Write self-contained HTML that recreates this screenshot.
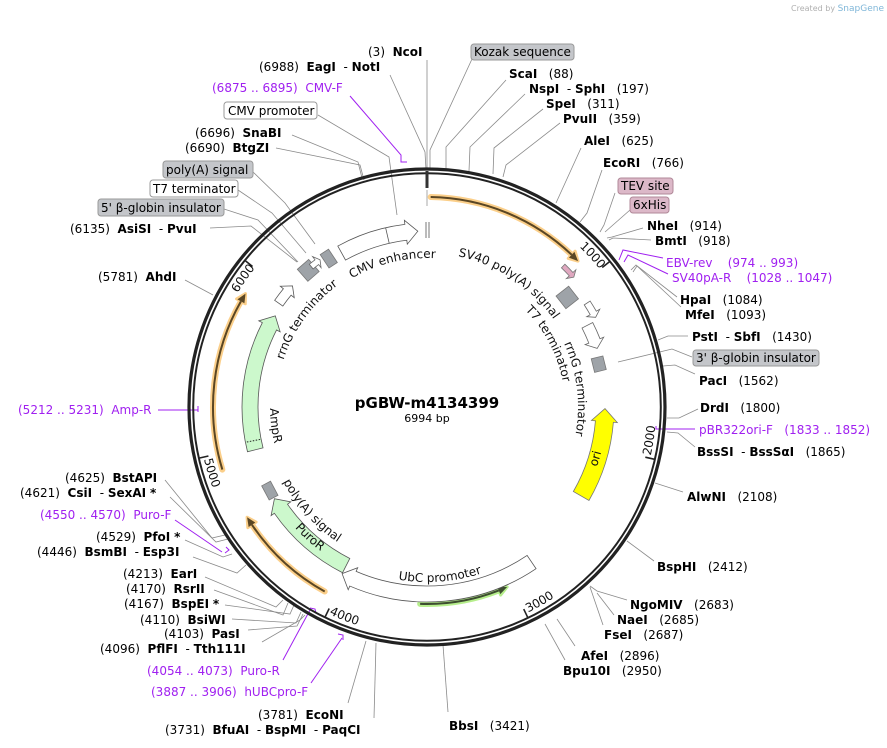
<!DOCTYPE html>
<html><head><meta charset="utf-8"><style>
html,body{margin:0;padding:0;background:#fff;}
svg{display:block;font-family:"DejaVu Sans","Liberation Sans",sans-serif;}
svg text{white-space:pre;}
.l{fill:none;stroke:#8a8a8a;stroke-width:0.8}
.p{fill:none;stroke:#a020f0;stroke-width:1}
.t{font-size:12px;fill:#000}
.b{font-weight:bold}
.pu{font-size:12px;fill:#a020f0}
.f{font-size:12px;fill:#111}
</style></head><body>
<svg id="s" width="887" height="748" viewBox="0 0 887 748" xmlns="http://www.w3.org/2000/svg">
<defs id="d">
<path id="tp1"/><path id="tp2"/><path id="tp3"/><path id="tp4"/><path id="tp5"/><path id="tp6"/>
<path id="fp1"/><path id="fp2"/><path id="fp3"/><path id="fp4"/><path id="fp5"/><path id="fp6"/><path id="fp7"/><path id="fp8"/><path id="fp9"/><path id="fp10"/>
</defs>
<g id="shapes"></g>
<g id="lines">
<polyline class="l" points="427,60 427,152 427,170"/>
<polyline class="l" points="390,75 425,152 426,170"/>
<polyline class="p" points="350,96 401,155 401,162 407,162"/>
<polyline class="l" points="318,115 389,157 397,215"/>
<polyline class="l" points="292,135 358,162 362,178"/>
<polyline class="l" points="276,148 360,165 364,180"/>
<polyline class="l" points="253,172 285,203 315,244"/>
<polyline class="l" points="238,190 272,213 306,253"/>
<polyline class="l" points="224,209 258,220 298,262"/>
<polyline class="l" points="210,228 251,226 297,262"/>
<polyline class="l" points="185,280 213,295"/>
<polyline class="l" points="472,59 430,150 430,170"/>
<polyline class="l" points="506,80 446,147 446,169"/>
<polyline class="l" points="525,94 470,147 469,171"/>
<polyline class="l" points="543,109 494,148 493,174"/>
<polyline class="l" points="560,123 506,165 503,177"/>
<polyline class="l" points="581,148 556,203"/>
<polyline class="l" points="602,170 587,213 580,222"/>
<polyline class="l" points="615,193 604,225 600,232"/>
<polyline class="l" points="630,210 605,232"/>
<polyline class="l" points="643,228 612,237 607,238"/>
<polyline class="l" points="651,240 613,238 609,240"/>
<polyline class="p" points="663,258 623,250 619,260"/>
<polyline class="p" points="668,274 628,255 624,262"/>
<polyline class="l" points="677,297 636,265 631,270"/>
<polyline class="l" points="681,307 637,266 633,272"/>
<polyline class="l" points="688,336 668,336 658,340"/>
<polyline class="l" points="692,357 672,349 618,362"/>
<polyline class="l" points="695,374 675,365 663,366"/>
<polyline class="l" points="698,409 679,418 667,418"/>
<polyline class="p" points="695,429 658,429"/>
<polyline class="p" points="656,426 656,429 660,429"/>
<polyline class="l" points="695,447 678,433 667,432"/>
<polyline class="l" points="683,492 655,483"/>
<polyline class="l" points="654,561 627,541"/>
<polyline class="l" points="627,600 597,591 590,586"/>
<polyline class="l" points="614,615 597,593"/>
<polyline class="l" points="603,625 590,587"/>
<polyline class="l" points="575,646 557,619"/>
<polyline class="l" points="565,660 545,624"/>
<polyline class="l" points="448,712 443,645"/>
<polyline class="l" points="348,703 366,641"/>
<polyline class="l" points="374,718 376,643"/>
<polyline class="l" points="165,480 212,538 225,535"/>
<polyline class="l" points="170,497 216,542 228,539"/>
<polyline class="p" points="175,520 222,552"/>
<polyline class="p" points="226,547 229,550 225,553"/>
<polyline class="l" points="185,540 223,557 232,554"/>
<polyline class="l" points="193,557 237,573 246,565"/>
<polyline class="l" points="205,577 276,607 283,600"/>
<polyline class="l" points="214,590 283,615 288,603"/>
<polyline class="l" points="225,605 290,614 294,605"/>
<polyline class="l" points="232,619 296,623 301,612"/>
<polyline class="l" points="248,630 297,626 303,614"/>
<polyline class="l" points="262,642 300,620 305,615"/>
<polyline class="p" points="283,660 310,610"/>
<polyline class="p" points="310,608 315,609 316,613"/>
<polyline class="p" points="311,683 342,638"/>
<polyline class="p" points="338,634 343,635 343,640"/>
<polyline class="p" points="158,410 198,410"/>
<polyline class="p" points="198,406 198,412"/>
</g>
<circle cx="427" cy="407" r="238" fill="none" stroke="#222" stroke-width="3.2"/>
<circle cx="427" cy="407" r="233.8" fill="none" stroke="#222" stroke-width="2"/>
<line x1="427" y1="171" x2="427" y2="188" stroke="#333" stroke-width="3"/>
<line x1="426" y1="222" x2="426" y2="238" stroke="#777" stroke-width="1"/>
<line x1="429" y1="222" x2="429" y2="238" stroke="#777" stroke-width="1"/>
<line x1="427" y1="190" x2="427" y2="206" stroke="#aaa" stroke-width="1"/>
<g id="ticks"></g>

<text class="f" font-size="11"><textPath href="#tp1" startOffset="50%" text-anchor="middle">1000</textPath></text>
<text class="f" font-size="11"><textPath href="#tp2" startOffset="50%" text-anchor="middle">2000</textPath></text>
<text class="f" font-size="11"><textPath href="#tp3" startOffset="50%" text-anchor="middle">3000</textPath></text>
<text class="f" font-size="11"><textPath href="#tp4" startOffset="50%" text-anchor="middle">4000</textPath></text>
<text class="f" font-size="11"><textPath href="#tp5" startOffset="50%" text-anchor="middle">5000</textPath></text>
<text class="f" font-size="11"><textPath href="#tp6" startOffset="50%" text-anchor="middle">6000</textPath></text>

<text class="f"><textPath href="#fp1" startOffset="50%" text-anchor="middle">CMV enhancer</textPath></text>
<text class="f"><textPath href="#fp2" startOffset="50%" text-anchor="middle">SV40 poly(A) signal</textPath></text>
<text class="f"><textPath href="#fp3" startOffset="50%" text-anchor="middle">T7 terminator</textPath></text>
<text class="f"><textPath href="#fp4" startOffset="50%" text-anchor="middle">rrnG terminator</textPath></text>
<text class="f"><textPath href="#fp5" startOffset="50%" text-anchor="middle">rrnG terminator</textPath></text>
<text class="f"><textPath href="#fp6" startOffset="50%" text-anchor="middle">AmpR</textPath></text>
<text class="f"><textPath href="#fp7" startOffset="50%" text-anchor="middle">poly(A) signal</textPath></text>
<text class="f"><textPath href="#fp8" startOffset="50%" text-anchor="middle">PuroR</textPath></text>
<text class="f"><textPath href="#fp9" startOffset="50%" text-anchor="middle">UbC promoter</textPath></text>
<text class="f"><textPath href="#fp10" startOffset="50%" text-anchor="middle">ori</textPath></text>

<text x="427" y="408" text-anchor="middle" font-size="15" font-weight="bold">pGBW-m4134399</text>
<text x="427" y="422" text-anchor="middle" font-size="11">6994 bp</text>

<text x="884" y="11" text-anchor="end" font-size="8" fill="#b0b0b0">Created by <tspan fill="#7fb6d8" font-size="9">SnapGene</tspan></text>

<rect x="224" y="102" width="93" height="17" rx="3" fill="#fff" stroke="#999"/>
<text class="t" x="228" y="115">CMV promoter</text>
<rect x="163" y="161" width="90" height="17" rx="3" fill="#c4c6ca" stroke="#999"/>
<text class="t" x="166" y="174">poly(A) signal</text>
<rect x="150" y="180" width="88" height="17" rx="3" fill="#fff" stroke="#999"/>
<text class="t" x="153" y="193">T7 terminator</text>
<rect x="98" y="199" width="126" height="17" rx="3" fill="#c4c6ca" stroke="#999"/>
<text class="t" x="101" y="212">5' β-globin insulator</text>
<rect x="471" y="44" width="103" height="16" rx="3" fill="#c4c6ca" stroke="#999"/>
<text class="t" x="474" y="56">Kozak sequence</text>
<rect x="618" y="178" width="55" height="16" rx="3" fill="#dcb8c8" stroke="#b08898"/>
<text class="t" x="621" y="190">TEV site</text>
<rect x="630" y="197" width="39" height="16" rx="3" fill="#dcb8c8" stroke="#b08898"/>
<text class="t" x="633" y="209">6xHis</text>
<rect x="693" y="350" width="126" height="16" rx="3" fill="#c4c6ca" stroke="#999"/>
<text class="t" x="696" y="362">3' β-globin insulator</text>

<g class="t">
<text x="368" y="56">(3)  <tspan class="b">NcoI</tspan></text>
<text x="259" y="71">(6988)  <tspan class="b">EagI</tspan>  - <tspan class="b">NotI</tspan></text>
<text x="212" y="92" class="pu">(6875 .. 6895)  CMV-F</text>
<text x="195" y="137">(6696)  <tspan class="b">SnaBI</tspan></text>
<text x="185" y="152">(6690)  <tspan class="b">BtgZI</tspan></text>
<text x="70" y="233">(6135)  <tspan class="b">AsiSI</tspan>  - <tspan class="b">PvuI</tspan></text>
<text x="98" y="281">(5781)  <tspan class="b">AhdI</tspan></text>

<text x="509" y="78"><tspan class="b">ScaI</tspan>   (88)</text>
<text x="529" y="93"><tspan class="b">NspI</tspan>  - <tspan class="b">SphI</tspan>   (197)</text>
<text x="546" y="108"><tspan class="b">SpeI</tspan>   (311)</text>
<text x="563" y="123"><tspan class="b">PvuII</tspan>   (359)</text>
<text x="584" y="145"><tspan class="b">AleI</tspan>   (625)</text>
<text x="603" y="167"><tspan class="b">EcoRI</tspan>   (766)</text>
<text x="647" y="230"><tspan class="b">NheI</tspan>   (914)</text>
<text x="655" y="245"><tspan class="b">BmtI</tspan>   (918)</text>
<text x="666" y="267" class="pu">EBV-rev    (974 .. 993)</text>
<text x="672" y="282" class="pu">SV40pA-R    (1028 .. 1047)</text>
<text x="680" y="304"><tspan class="b">HpaI</tspan>   (1084)</text>
<text x="685" y="319"><tspan class="b">MfeI</tspan>   (1093)</text>

<text x="692" y="341"><tspan class="b">PstI</tspan>  - <tspan class="b">SbfI</tspan>   (1430)</text>
<text x="699" y="385"><tspan class="b">PacI</tspan>   (1562)</text>
<text x="700" y="412"><tspan class="b">DrdI</tspan>   (1800)</text>
<text x="699" y="434" class="pu">pBR322ori-F   (1833 .. 1852)</text>
<text x="697" y="456"><tspan class="b">BssSI</tspan>  - <tspan class="b">BssSαI</tspan>   (1865)</text>
<text x="687" y="501"><tspan class="b">AlwNI</tspan>   (2108)</text>
<text x="657" y="571"><tspan class="b">BspHI</tspan>   (2412)</text>
<text x="630" y="609"><tspan class="b">NgoMIV</tspan>   (2683)</text>
<text x="617" y="624"><tspan class="b">NaeI</tspan>   (2685)</text>
<text x="604" y="639"><tspan class="b">FseI</tspan>   (2687)</text>
<text x="581" y="660"><tspan class="b">AfeI</tspan>   (2896)</text>
<text x="563" y="675"><tspan class="b">Bpu10I</tspan>   (2950)</text>

<text x="449" y="730"><tspan class="b">BbsI</tspan>   (3421)</text>
<text x="258" y="719">(3781)  <tspan class="b">EcoNI</tspan></text>
<text x="165" y="734">(3731)  <tspan class="b">BfuAI</tspan>  - <tspan class="b">BspMI</tspan>  - <tspan class="b">PaqCI</tspan></text>

<text x="65" y="482">(4625)  <tspan class="b">BstAPI</tspan></text>
<text x="20" y="497">(4621)  <tspan class="b">CsiI</tspan>  - <tspan class="b">SexAI</tspan> <tspan class="b">*</tspan></text>
<text x="40" y="519" class="pu">(4550 .. 4570)  Puro-F</text>
<text x="96" y="541">(4529)  <tspan class="b">PfoI</tspan> <tspan class="b">*</tspan></text>
<text x="37" y="556">(4446)  <tspan class="b">BsmBI</tspan>  - <tspan class="b">Esp3I</tspan></text>
<text x="123" y="578">(4213)  <tspan class="b">EarI</tspan></text>
<text x="126" y="593">(4170)  <tspan class="b">RsrII</tspan></text>
<text x="124" y="608">(4167)  <tspan class="b">BspEI</tspan> <tspan class="b">*</tspan></text>
<text x="140" y="624">(4110)  <tspan class="b">BsiWI</tspan></text>
<text x="164" y="638">(4103)  <tspan class="b">PasI</tspan></text>
<text x="100" y="653">(4096)  <tspan class="b">PflFI</tspan>  - <tspan class="b">Tth111I</tspan></text>
<text x="147" y="675" class="pu">(4054 .. 4073)  Puro-R</text>
<text x="151" y="696" class="pu">(3887 .. 3906)  hUBCpro-F</text>
<text x="18" y="414" class="pu">(5212 .. 5231)  Amp-R</text>
</g>
</svg>
<script>
(function(){
var cx=427,cy=407,NS="http://www.w3.org/2000/svg";
function pt(a,r){var t=a*Math.PI/180;return (cx+r*Math.sin(t)).toFixed(2)+","+(cy-r*Math.cos(t)).toFixed(2);}
function arc(a1,a2,r){var l=Math.abs(a2-a1)>180?1:0,s=a2>a1?1:0;return "M"+pt(a1,r)+" A"+r+","+r+" 0 "+l+" "+s+" "+pt(a2,r);}
var g=document.getElementById("shapes");
function add(tag,at){var e=document.createElementNS(NS,tag);for(var k in at)e.setAttribute(k,at[k]);g.appendChild(e);return e;}
function block(a1,a2,r,w,fill,stroke,hl){var d=a2>a1?1:-1;var h=(hl||12)/r*180/Math.PI;var ab=a2-d*h;var ro=r+w/2,ri=r-w/2;
 var s=d>0?1:0,s2=d>0?0:1;var l=Math.abs(ab-a1)>180?1:0;
 var p="M"+pt(a1,ro)+" A"+ro+","+ro+" 0 "+l+" "+s+" "+pt(ab,ro)+" L"+pt(ab,ro+4)+" L"+pt(a2,r)+" L"+pt(ab,ri-4)+" L"+pt(ab,ri)+" A"+ri+","+ri+" 0 "+l+" "+s2+" "+pt(a1,ri)+" Z";
 add("path",{d:p,fill:fill,stroke:stroke,"stroke-width":0.8});}
function thin(a1,a2,r,glow,core){var d=a2>a1?1:-1;var h=9/r*180/Math.PI;var ab=a2-d*h;
 add("path",{d:arc(a1,ab,r),fill:"none",stroke:glow,"stroke-width":6,"stroke-linecap":"round"});
 add("path",{d:"M"+pt(ab,r+5)+" L"+pt(a2,r)+" L"+pt(ab,r-5)+" Z",fill:glow,stroke:glow,"stroke-width":3,"stroke-linejoin":"round"});
 add("path",{d:arc(a1,ab,r),fill:"none",stroke:core,"stroke-width":2});
 add("path",{d:"M"+pt(ab,r+4)+" L"+pt(a2,r)+" L"+pt(ab,r-4)+" Z",fill:core});}
function box(a,r,w,h,fill){var c=pt(a,r).split(",");add("rect",{x:-w/2,y:-h/2,width:w,height:h,fill:fill,stroke:"#777","stroke-width":0.8,transform:"translate("+c[0]+","+c[1]+") rotate("+a+")"});}
var OR="#fbcf8a",OC="#5a4624";
thin(1,46,210,OR,OC);
thin(-107,-58,214,OR,OC);
thin(209,238.5,211,OR,OC);
thin(182,156,197,"#b6ee8c","#3d4d30");
block(-29,-3,176,16,"#fff","#555");
add("path",{d:"M"+pt(-13,168)+" L"+pt(-13,184),stroke:"#555","stroke-width":0.8});
block(-104,-59,177,16,"#ccf8cc","#555");
add("path",{d:"M"+pt(-101,170)+" L"+pt(-101,184),stroke:"#222","stroke-width":1,"stroke-dasharray":"1.5,1.5"});
block(-55,-48,181,10,"#fff","#555",8);
block(207,239,178,16,"#ccf8cc","#555");
block(146,207,187,16,"#fff","#555");
block(120,90.5,178,18,"#ffff00","#777",13);
block(44,48.5,196,5,"#e0a8c0","#777",4);
block(57,62,191,7,"#fff","#666",5);
block(63,71,180,12,"#fff","#666",8);
box(52,178,16,16,"#9ea3a8");
box(76,177,14,12,"#9ea3a8");
box(-41,181,15,16,"#9ea3a8");
box(-33.5,178,10,16,"#9ea3a8");
block(-39.5,-36,182,6,"#fff","#666",4);
box(242,178,16,10,"#9ea3a8");
var tk=document.getElementById("ticks");
[1000,2000,3000,4000,5000,6000].forEach(function(p){var a=p/6994*360;var e=document.createElementNS(NS,"path");e.setAttribute("d","M"+pt(a,233)+" L"+pt(a,224));e.setAttribute("stroke","#222");e.setAttribute("stroke-width","1.6");tk.appendChild(e);});
function setp(id,d){document.getElementById(id).setAttribute("d",d);}
function cw(id,c,r){setp(id,arc(c-60,c+60,r));}
function ccw(id,c,r){setp(id,arc(c+60,c-60,r));}
cw("tp1",47.5,221);ccw("tp2",98.5,229);ccw("tp3",150,229);ccw("tp4",201.5,229);ccw("tp5",253,229);cw("tp6",305,221);
cw("fp1",-13.5,149);cw("fp2",33.5,154);cw("fp3",62.5,138);cw("fp4",83,151);cw("fp5",-54,151);
ccw("fp6",263,157);ccw("fp7",228,162);ccw("fp8",222,179);ccw("fp9",175.6,175);ccw("fp10",107,180);
})();
</script>
</body></html>
